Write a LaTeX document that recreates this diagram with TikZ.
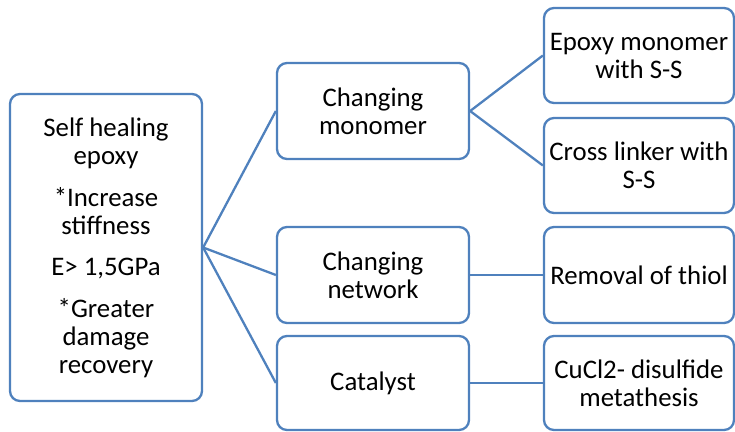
\documentclass[tikz,border=0pt]{standalone}
\usepackage{fontspec}
\setmainfont{Carlito}
\definecolor{boxblue}{HTML}{4F81BD}
\begin{document}
\begin{tikzpicture}[x=1pt,y=-1pt,
  box/.style={draw=boxblue, line width=2.3pt, rounded corners=10pt, fill=white,
    align=center, inner sep=0pt, font=\fontsize{26.8}{28}\selectfont},
  link/.style={draw=boxblue, line width=2.3pt}]
\useasboundingbox (0,0) rectangle (735,431);
\node[box, minimum width=192pt, minimum height=307pt] (root) at (106,247.5)
  {Self healing\\epoxy\\[14pt]*Increase\\stiffness\\[13pt]E> 1,5GPa\\[14pt]*Greater\\damage\\recovery};
\node[box, minimum width=192pt, minimum height=96pt] (mono) at (373,111) {Changing\\monomer};
\node[box, minimum width=192pt, minimum height=96pt] (net) at (373,275) {Changing\\network};
\node[box, minimum width=192pt, minimum height=94pt] (cat) at (373,383) {Catalyst};
\node[box, minimum width=190pt, minimum height=95pt] (epm) at (639,55.5) {Epoxy monomer\\with S-S};
\node[box, minimum width=190pt, minimum height=95pt] (cross) at (639,165.5) {Cross linker with\\S-S};
\node[box, minimum width=190pt, minimum height=96pt] (thiol) at (639,275) {Removal of thiol};
\node[box, minimum width=190pt, minimum height=94pt] (cucl) at (639,383) {CuCl2- disulfide\\metathesis};
\draw[link] (root.east) -- (mono.west);
\draw[link] (root.east) -- (net.west);
\draw[link] (root.east) -- (cat.west);
\draw[link] (mono.east) -- (epm.west);
\draw[link] (mono.east) -- (cross.west);
\draw[link] (net.east) -- (thiol.west);
\draw[link] (cat.east) -- (cucl.west);
\end{tikzpicture}
\end{document}
